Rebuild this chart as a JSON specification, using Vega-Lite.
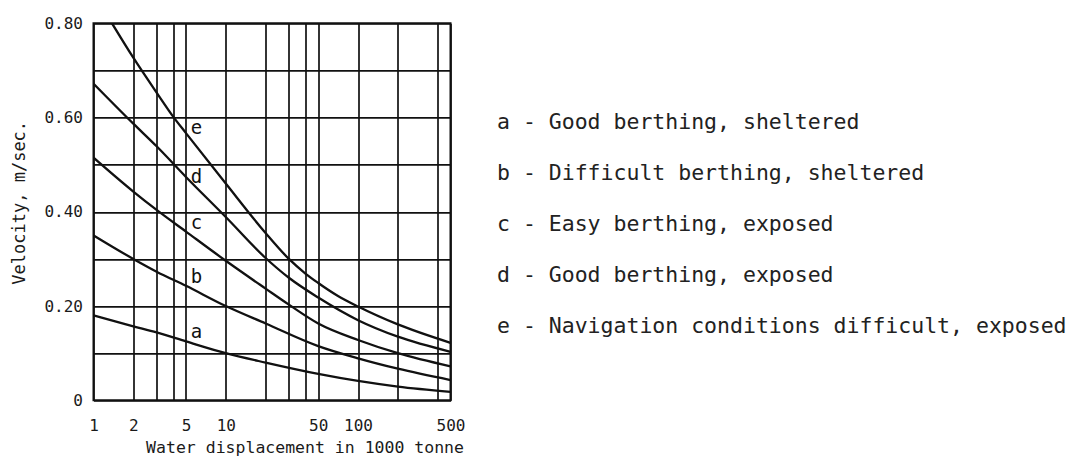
{
  "$schema": "https://vega.github.io/schema/vega-lite/v6.json",
  "autosize": {"type": "none"},
  "padding": {"left": 93.5, "top": 23.3, "right": 625.5, "bottom": 57.7},
  "width": 357,
  "height": 377,
  "background": "white",
  "config": {
    "view": {"stroke": "#111", "strokeWidth": 2},
    "font": "DejaVu Sans Mono"
  },
  "datasets": {
    "curves": [
      {"key": "a", "condition": "a - Good berthing, sheltered", "displacement": 1, "velocity": 0.18},
      {"key": "a", "condition": "a - Good berthing, sheltered", "displacement": 2, "velocity": 0.157},
      {"key": "a", "condition": "a - Good berthing, sheltered", "displacement": 3, "velocity": 0.144},
      {"key": "a", "condition": "a - Good berthing, sheltered", "displacement": 5, "velocity": 0.125},
      {"key": "a", "condition": "a - Good berthing, sheltered", "displacement": 10, "velocity": 0.1},
      {"key": "a", "condition": "a - Good berthing, sheltered", "displacement": 20, "velocity": 0.08},
      {"key": "a", "condition": "a - Good berthing, sheltered", "displacement": 50, "velocity": 0.056},
      {"key": "a", "condition": "a - Good berthing, sheltered", "displacement": 100, "velocity": 0.041},
      {"key": "a", "condition": "a - Good berthing, sheltered", "displacement": 200, "velocity": 0.029},
      {"key": "a", "condition": "a - Good berthing, sheltered", "displacement": 500, "velocity": 0.018},

      {"key": "b", "condition": "b - Difficult berthing, sheltered", "displacement": 1, "velocity": 0.35},
      {"key": "b", "condition": "b - Difficult berthing, sheltered", "displacement": 2, "velocity": 0.3},
      {"key": "b", "condition": "b - Difficult berthing, sheltered", "displacement": 3, "velocity": 0.273},
      {"key": "b", "condition": "b - Difficult berthing, sheltered", "displacement": 5, "velocity": 0.243},
      {"key": "b", "condition": "b - Difficult berthing, sheltered", "displacement": 10, "velocity": 0.2},
      {"key": "b", "condition": "b - Difficult berthing, sheltered", "displacement": 20, "velocity": 0.163},
      {"key": "b", "condition": "b - Difficult berthing, sheltered", "displacement": 50, "velocity": 0.115},
      {"key": "b", "condition": "b - Difficult berthing, sheltered", "displacement": 100, "velocity": 0.089},
      {"key": "b", "condition": "b - Difficult berthing, sheltered", "displacement": 200, "velocity": 0.067},
      {"key": "b", "condition": "b - Difficult berthing, sheltered", "displacement": 500, "velocity": 0.043},

      {"key": "c", "condition": "c - Easy berthing, exposed", "displacement": 1, "velocity": 0.515},
      {"key": "c", "condition": "c - Easy berthing, exposed", "displacement": 2, "velocity": 0.443},
      {"key": "c", "condition": "c - Easy berthing, exposed", "displacement": 3, "velocity": 0.404},
      {"key": "c", "condition": "c - Easy berthing, exposed", "displacement": 5, "velocity": 0.358},
      {"key": "c", "condition": "c - Easy berthing, exposed", "displacement": 10, "velocity": 0.296},
      {"key": "c", "condition": "c - Easy berthing, exposed", "displacement": 20, "velocity": 0.237},
      {"key": "c", "condition": "c - Easy berthing, exposed", "displacement": 30, "velocity": 0.203},
      {"key": "c", "condition": "c - Easy berthing, exposed", "displacement": 50, "velocity": 0.163},
      {"key": "c", "condition": "c - Easy berthing, exposed", "displacement": 100, "velocity": 0.128},
      {"key": "c", "condition": "c - Easy berthing, exposed", "displacement": 200, "velocity": 0.1},
      {"key": "c", "condition": "c - Easy berthing, exposed", "displacement": 500, "velocity": 0.072},

      {"key": "d", "condition": "d - Good berthing, exposed", "displacement": 1, "velocity": 0.672},
      {"key": "d", "condition": "d - Good berthing, exposed", "displacement": 2, "velocity": 0.587},
      {"key": "d", "condition": "d - Good berthing, exposed", "displacement": 3, "velocity": 0.539},
      {"key": "d", "condition": "d - Good berthing, exposed", "displacement": 5, "velocity": 0.474},
      {"key": "d", "condition": "d - Good berthing, exposed", "displacement": 10, "velocity": 0.389},
      {"key": "d", "condition": "d - Good berthing, exposed", "displacement": 20, "velocity": 0.302},
      {"key": "d", "condition": "d - Good berthing, exposed", "displacement": 30, "velocity": 0.26},
      {"key": "d", "condition": "d - Good berthing, exposed", "displacement": 50, "velocity": 0.218},
      {"key": "d", "condition": "d - Good berthing, exposed", "displacement": 100, "velocity": 0.17},
      {"key": "d", "condition": "d - Good berthing, exposed", "displacement": 200, "velocity": 0.135},
      {"key": "d", "condition": "d - Good berthing, exposed", "displacement": 500, "velocity": 0.103},

      {"key": "e", "condition": "e - Navigation conditions difficult, exposed", "displacement": 1.38, "velocity": 0.8},
      {"key": "e", "condition": "e - Navigation conditions difficult, exposed", "displacement": 2, "velocity": 0.727},
      {"key": "e", "condition": "e - Navigation conditions difficult, exposed", "displacement": 3, "velocity": 0.653},
      {"key": "e", "condition": "e - Navigation conditions difficult, exposed", "displacement": 4, "velocity": 0.602},
      {"key": "e", "condition": "e - Navigation conditions difficult, exposed", "displacement": 5, "velocity": 0.567},
      {"key": "e", "condition": "e - Navigation conditions difficult, exposed", "displacement": 10, "velocity": 0.46},
      {"key": "e", "condition": "e - Navigation conditions difficult, exposed", "displacement": 20, "velocity": 0.355},
      {"key": "e", "condition": "e - Navigation conditions difficult, exposed", "displacement": 30, "velocity": 0.3},
      {"key": "e", "condition": "e - Navigation conditions difficult, exposed", "displacement": 40, "velocity": 0.269},
      {"key": "e", "condition": "e - Navigation conditions difficult, exposed", "displacement": 50, "velocity": 0.249},
      {"key": "e", "condition": "e - Navigation conditions difficult, exposed", "displacement": 70, "velocity": 0.222},
      {"key": "e", "condition": "e - Navigation conditions difficult, exposed", "displacement": 100, "velocity": 0.199},
      {"key": "e", "condition": "e - Navigation conditions difficult, exposed", "displacement": 200, "velocity": 0.161},
      {"key": "e", "condition": "e - Navigation conditions difficult, exposed", "displacement": 500, "velocity": 0.122}
    ],
    "curveLabels": [
      {"key": "a", "displacement": 6, "velocity": 0.144},
      {"key": "b", "displacement": 6, "velocity": 0.261},
      {"key": "c", "displacement": 6, "velocity": 0.377},
      {"key": "d", "displacement": 6, "velocity": 0.474},
      {"key": "e", "displacement": 6, "velocity": 0.578}
    ]
  },
  "encoding": {
    "x": {
      "field": "displacement",
      "type": "quantitative",
      "scale": {"type": "log", "domain": [1, 500], "nice": false},
      "axis": {
        "values": [1, 2, 3, 4, 5, 10, 20, 30, 40, 50, 100, 200, 400, 500],
        "format": "d",
        "labelExpr": "indexof([1, 2, 5, 10, 50, 100, 500], datum.value) >= 0 ? datum.label : ''",
        "grid": true,
        "gridColor": "#111",
        "gridWidth": 1.7,
        "gridOpacity": 1,
        "domain": false,
        "ticks": false,
        "labelFont": "DejaVu Sans Mono",
        "labelFontSize": 16,
        "labelColor": "#1a1a1a",
        "labelPadding": 17,
        "labelFlush": false,
        "labelOverlap": false,
        "title": "Water displacement in 1000 tonne",
        "titleFont": "DejaVu Sans Mono",
        "titleFontSize": 16.5,
        "titleFontWeight": "normal",
        "titleColor": "#1a1a1a",
        "titleAlign": "right",
        "titleAnchor": null,
        "titleBaseline": "alphabetic",
        "titleX": 370,
        "titleY": 52
      }
    },
    "y": {
      "field": "velocity",
      "type": "quantitative",
      "scale": {"domain": [0, 0.8], "nice": false},
      "axis": {
        "values": [0, 0.1, 0.2, 0.3, 0.4, 0.5, 0.6, 0.7, 0.8],
        "labelExpr": "datum.value === 0 ? '0' : (round(datum.value * 10) % 2 === 0 ? format(datum.value, '.2f') : '')",
        "grid": true,
        "gridColor": "#111",
        "gridWidth": 1.7,
        "gridOpacity": 1,
        "domain": false,
        "ticks": false,
        "labelFont": "DejaVu Sans Mono",
        "labelFontSize": 16,
        "labelColor": "#1a1a1a",
        "labelPadding": 11,
        "labelFlush": false,
        "labelOverlap": false,
        "title": "Velocity, m/sec.",
        "titleFont": "DejaVu Sans Mono",
        "titleFontSize": 17,
        "titleFontWeight": "normal",
        "titleColor": "#1a1a1a",
        "titleAngle": -90,
        "titleAlign": "center",
        "titleAnchor": null,
        "titleBaseline": "alphabetic",
        "titleX": -69.5,
        "titleY": 179
      }
    }
  },
  "layer": [
    {
      "data": {"name": "curves"},
      "mark": {"type": "line", "interpolate": "monotone", "strokeWidth": 2.3, "clip": true},
      "encoding": {
        "stroke": {
          "field": "condition",
          "type": "nominal",
          "scale": {"range": ["#111", "#111", "#111", "#111", "#111"]},
          "legend": {
            "orient": "none",
            "legendX": 382,
            "legendY": 89,
            "title": null,
            "padding": 0,
            "symbolSize": 0,
            "symbolOpacity": 0,
            "symbolStrokeWidth": 0,
            "labelOffset": 0,
            "rowPadding": 28,
            "labelFont": "DejaVu Sans Mono",
            "labelFontSize": 21.5,
            "labelColor": "#222",
            "labelLimit": 1000
          }
        },
        "detail": {"field": "key", "type": "nominal"}
      }
    },
    {
      "data": {"name": "curveLabels"},
      "mark": {"type": "text", "font": "DejaVu Sans Mono", "fontSize": 19, "color": "#111", "align": "center", "baseline": "middle"},
      "encoding": {
        "text": {"field": "key", "type": "nominal"}
      }
    }
  ]
}
